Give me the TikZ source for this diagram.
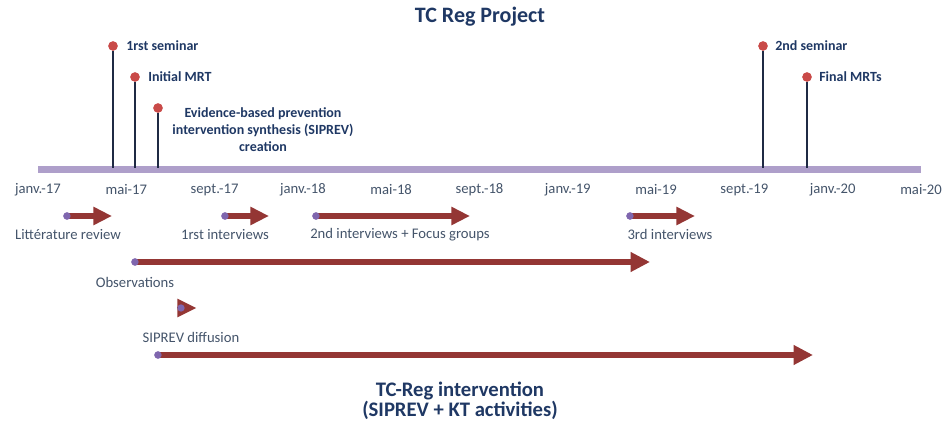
\documentclass[tikz,border=0pt]{standalone}
\usepackage{fontspec}
\setmainfont{Carlito}
\usetikzlibrary{arrows.meta}

\definecolor{titleblue}{HTML}{1F3864}
\definecolor{labelgrey}{HTML}{44546A}
\definecolor{barlilac}{HTML}{AE9FCA}
\definecolor{arrowred}{HTML}{943634}
\definecolor{dotred}{HTML}{C94A48}
\definecolor{dotpurple}{HTML}{7F66AE}
\definecolor{stemnavy}{HTML}{1F2A44}

\begin{document}
\begin{tikzpicture}[x=0.75pt,y=-0.75pt,
  headline/.style={font=\fontsize{16.5}{14.5}\selectfont\bfseries, text=titleblue, align=center, inner sep=0pt},
  caption/.style={font=\fontsize{15.5}{13.5}\selectfont\bfseries, text=titleblue, align=center, inner sep=0pt},
  milestone/.style={font=\fontsize{10.5}{12.75}\selectfont\bfseries, text=titleblue, inner sep=0pt},
  datelabel/.style={font=\fontsize{11}{13}\selectfont, text=labelgrey, inner sep=0pt},
  tasklabel/.style={font=\fontsize{11}{13}\selectfont, text=labelgrey, inner sep=0pt},
  reddot/.style={circle, fill=dotred, inner sep=0pt, minimum size=7pt},
  startdot/.style={circle, fill=dotpurple, inner sep=0pt, minimum size=5.5pt},
  stem/.style={stemnavy, line width=1.1pt},
  taskarrow/.style={arrowred, line width=4.5pt,
    -{Triangle[length=14pt, width=13pt]}},
  longarrow/.style={arrowred, line width=4.5pt,
    -{Triangle[length=14.5pt, width=14pt]}}
]
\useasboundingbox (0,0) rectangle (947,431);

% title
\node[headline] (title) at (480,17) {TC Reg Project};

% time axis
\coordinate (axisL) at (38,170);
\coordinate (axisR) at (921,170);
\draw[barlilac, line width=5.25pt] (axisL) -- (axisR);

% month labels, every four months
\foreach \lbl [count=\i from 0] in {janv.-17,mai-17,sept.-17,janv.-18,mai-18,sept.-18,janv.-19,mai-19,sept.-19,janv.-20,mai-20}{
  \node[datelabel] (d\i) at ({38+88.3*\i},190) {\lbl};
}

% milestones: coordinate on the axis, dot on top, stem between them
\foreach \nm/\xx/\yy in {ms1/113/46, ms2/135/77, ms3/158/108, ms4/763/46, ms5/807/77}{
  \coordinate (\nm base) at (\xx,168);
  \node[reddot] (\nm) at (\xx,\yy) {};
  \draw[stem] (\nm.south) -- (\nm base);
  \node[reddot] at (\nm) {};
}
\node[milestone, anchor=west] (ms1lbl) at (126,46) {1rst seminar};
\node[milestone, anchor=west] (ms2lbl) at (148,77) {Initial MRT};
\node[milestone, align=center] (ms3lbl) at (263,130)
  {Evidence-based prevention\\intervention synthesis (SIPREV)\\creation};
\node[milestone, anchor=west] (ms4lbl) at (775,46) {2nd seminar};
\node[milestone, anchor=west] (ms5lbl) at (819,77) {Final MRTs};

% project activities
\node[startdot] (t1) at (67,216) {};
\coordinate (t1end) at (112,216);
\node[startdot] (t2) at (225,216) {};
\coordinate (t2end) at (269,216);
\node[startdot] (t3) at (316,216) {};
\coordinate (t3end) at (470,216);
\node[startdot] (t4) at (630,216) {};
\coordinate (t4end) at (695,216);
\node[startdot] (t5) at (135,262) {};
\coordinate (t5end) at (650,262);
\node[startdot] (t6) at (181,308) {};
\coordinate (t6end) at (196,308);
\node[startdot] (t7) at (158,355) {};
\coordinate (t7end) at (813,355);

\draw[taskarrow] (t1.center) -- (t1end);
\draw[taskarrow] (t2.center) -- (t2end);
\draw[taskarrow] (t3.center) -- (t3end);
\draw[taskarrow] (t4.center) -- (t4end);
\draw[longarrow] (t5.center) -- (t5end);
\draw[arrowred, line width=0pt, -{Triangle[length=14pt, width=14pt]}] ([xshift=-14pt]t6end) -- (t6end);
\draw[longarrow] (t7.center) -- (t7end);

% dots on top of the shafts
\foreach \t in {t1,t2,t3,t4,t5,t6,t7}{
  \node[startdot] at (\t) {};
}

\node[tasklabel] (l1) at (68,235) {Littérature review};
\node[tasklabel] (l2) at (225,235) {1rst interviews};
\node[tasklabel] (l3) at (400,235) {2nd interviews + Focus groups};
\node[tasklabel] (l4) at (670,234) {3rd interviews};
\node[tasklabel] (l5) at (135,282) {Observations};
\node[tasklabel] (l6) at (191,337) {SIPREV diffusion};

% intervention caption
\node[caption] (cap) at (460,401) {TC-Reg intervention\\(SIPREV + KT activities)};
\end{tikzpicture}
\end{document}
